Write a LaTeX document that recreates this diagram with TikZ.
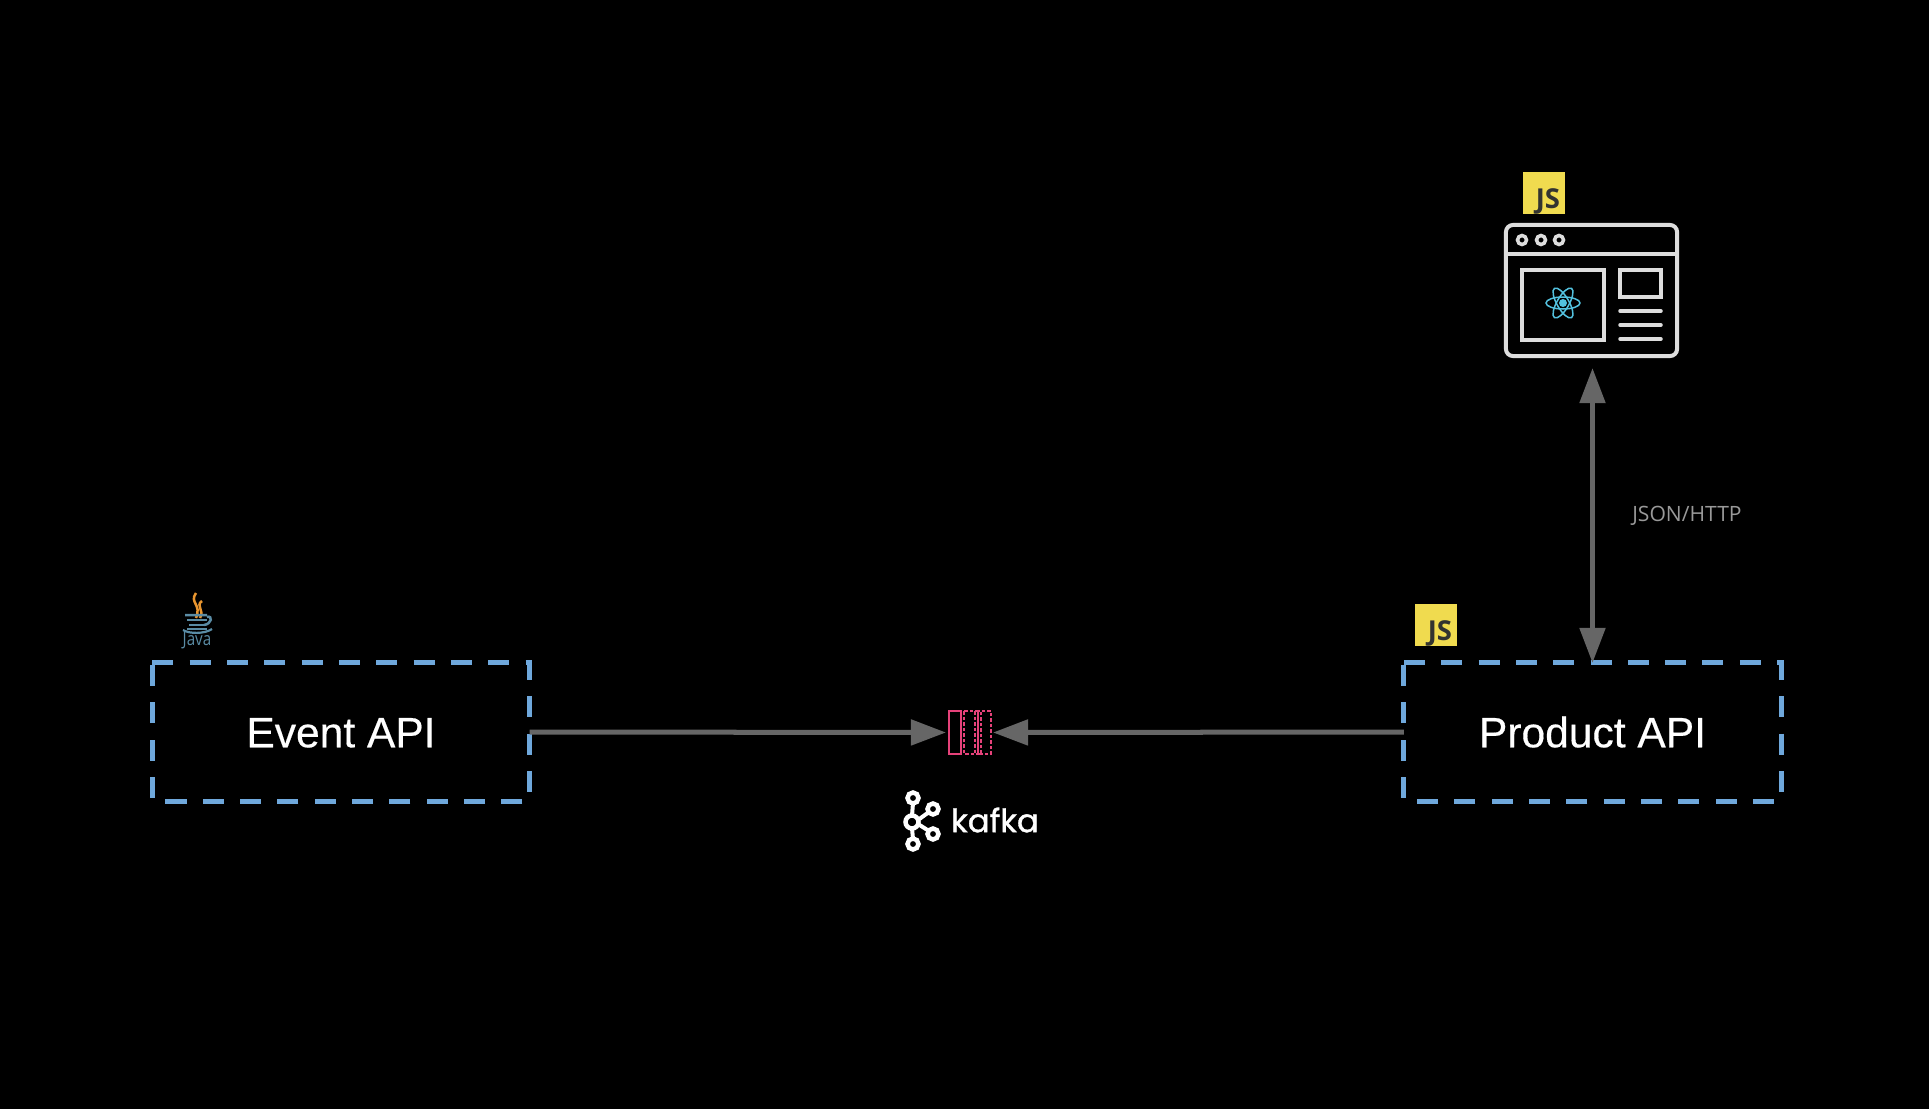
\documentclass[tikz,border=0pt]{standalone}
\usepackage{fontspec}
\setmainfont{Liberation Sans}
\newfontfamily\labelfont{Open Sans}
\newfontfamily\kafkafont[FakeBold=1]{Poppins}
\newfontfamily\apifont[FakeBold=0.4]{Liberation Sans}
\usetikzlibrary{arrows.meta}

\definecolor{boxblue}{HTML}{6FA8DC}
\definecolor{arrowgrey}{HTML}{666666}
\definecolor{jsyellow}{HTML}{F0DB4F}
\definecolor{jsdark}{HTML}{323330}
\definecolor{topicpink}{HTML}{E6427A}
\definecolor{reactblue}{HTML}{53C1DE}
\definecolor{iconwhite}{HTML}{DDDDDD}
\definecolor{javablue}{HTML}{5A8CA5}
\definecolor{javaorange}{HTML}{E8952F}

\tikzset{
apibox/.style={minimum width=3.77cm,minimum height=1.38cm,inner sep=0,outer sep=0,text=white,text height=8.7pt,text depth=0pt,font=\apifont\fontsize{12.1}{14}\selectfont},
dashbox/.style={draw=boxblue,line width=0.05cm,dash pattern=on 0.21cm off 0.163cm},
link/.style={draw=arrowgrey,line width=0.05cm,-{Triangle[length=0.35cm,width=0.25cm]}},
jsbadge/.style={fill=jsyellow,minimum size=0.42cm,inner sep=0,outer sep=0},
jstext/.style={text=jsdark,font=\labelfont\fontsize{7.8}{8}\selectfont\bfseries,inner sep=0},
icon/.style={draw=iconwhite,line width=0.04cm},
topicdash/.style={draw=topicpink,line width=0.02cm,dash pattern=on 0.035cm off 0.02cm},
}

\begin{document}
\begin{tikzpicture}[x=0.01cm,y=-0.01cm]

\fill[black] (0,0) rectangle (1929,1109);
\useasboundingbox (0,0) rectangle (1929,1109);

% Event API
\node[apibox] (eventapi) at (341,732) {Event API};
\draw[dashbox] (eventapi.north west) -- (eventapi.north east) -- (eventapi.south east) -- (eventapi.south west) -- cycle;

% Java
\begin{scope}[shift={(197,0)}]
\draw[javaorange,line width=0.025cm] (-1,593) .. controls (-8,603) and (5,604) .. (-1,618);
\draw[javaorange,line width=0.025cm] (5,601) .. controls (-2,606) and (8,610) .. (3,618);
\draw[javablue,line width=0.025cm] (-12,615) -- (10,615) (10,617) .. controls (16,615) and (15,624) .. (7,625);
\foreach \w/\y in {10/620,8/625,10/629}
{
\draw[javablue,line width=0.02cm] (-\w,\y) -- (\w,\y);
}
\draw[javablue,line width=0.022cm] (-14,630) .. controls (-8,634) and (8,634) .. (15,629);
\node[text=javablue,font=\labelfont\fontsize{5.2}{6}\selectfont,inner sep=0,xscale=0.83] (javalabel) at (0,641) {Java};
\end{scope}

% Product API
\node[apibox] (productapi) at (1592.5,732) {Product API};
\draw[dashbox] (productapi.north west) -- (productapi.north east) -- (productapi.south east) -- (productapi.south west) -- cycle;

\node[jsbadge] (productjs) at (1436,625) {};
\node[jstext] (productjslabel) at (1440,633.5) {JS};

% Kafka topic
\node[draw=topicpink,line width=0.025cm,minimum width=0.12cm,minimum height=0.43cm,inner sep=0,outer sep=0] (topic) at (955,732.5) {};
\coordinate (topicend) at (991,732.5);
\draw[topicdash] (964,711) rectangle (978,754);
\draw[topicdash] (974.5,711) rectangle (981,754);
\draw[topicdash] (978,711) rectangle (991,754);

\draw[link,shorten >=0.03cm] (eventapi.east) -- (topic.west);
\draw[link,shorten >=0.02cm] (productapi.west) -- (topicend);

% Kafka logo
\foreach \x/\y/\r in {
913/798/5.5,912/822/6.5,933/809/5.5,
933/834/5.5,913/844/5.5
}
{
\draw[white,line width=0.045cm] (\x,\y) circle (\r);
}
\draw[white,line width=0.04cm] (913,803) -- (912,816) (913,839) -- (912,828) (918,820) -- (929,812) (918,824) -- (929,831);
\node[text=white,font=\kafkafont\fontsize{9.2}{11}\selectfont,inner sep=0] (kafkalabel) at (995,820) {kafka};

% Browser
\node[draw=iconwhite,line width=0.04cm,rounded corners=0.07cm,minimum width=1.71cm,minimum height=1.31cm,inner sep=0,outer sep=0] (browser) at (1591.5,290.5) {};
\draw[icon] (browser.west |- 0,254) -- (browser.east |- 0,254);
\foreach \x in {1522,1541,1559}
{
\draw[iconwhite,line width=0.035cm] (\x,240) circle (4.5);
}
\draw[icon,line width=0.035cm] (1522,270) rectangle (1604,340);
\draw[icon,line width=0.035cm] (1620,270) rectangle (1661,297);
\foreach \y in {311,325,339}
{
\draw[iconwhite,line width=0.035cm,line cap=round] (1620,\y) -- (1661,\y);
}

% React
\fill[reactblue] (1563,303) circle (4);
\foreach \a in {0,60,120}
{
\draw[reactblue,line width=0.015cm,rotate around={\a:(1563,303)}] (1563,303) ellipse (17 and 6);
}

\node[jsbadge] (browserjs) at (1544,193) {};
\node[jstext] (browserjslabel) at (1548,201.5) {JS};

% JSON/HTTP
\draw[link,{Triangle[length=0.35cm,width=0.25cm]}-{Triangle[length=0.35cm,width=0.25cm]},shorten <=0.12cm] (browser.south -| productapi.north) -- (productapi.north);
\node[text=white!60!black,font=\labelfont\fontsize{6}{7}\selectfont,inner sep=0] (jsonlabel) at (1687,516) {JSON/HTTP};

\end{tikzpicture}
\end{document}
